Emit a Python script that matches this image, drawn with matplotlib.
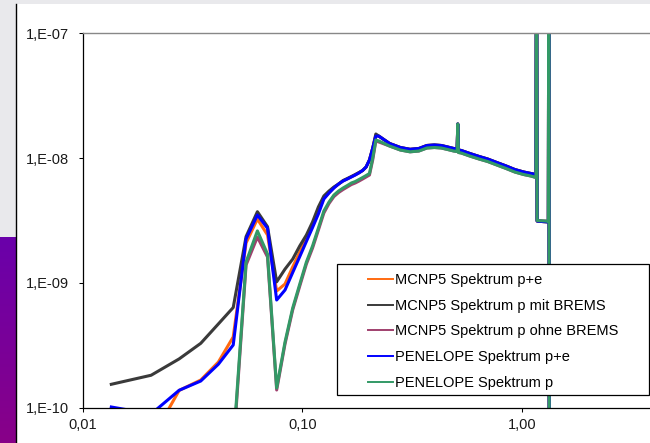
import numpy as np
import matplotlib
matplotlib.use("Agg")
import matplotlib.pyplot as plt
from matplotlib.patches import Rectangle
from matplotlib.lines import Line2D
from matplotlib.ticker import NullLocator
from matplotlib.colors import LinearSegmentedColormap

plt.rcParams['font.family'] = ['Liberation Sans', 'DejaVu Sans']

# ---------------- data (energy in MeV, spectrum values) ----------------
energy = [0.0135, 0.0205, 0.0275, 0.0345, 0.0415, 0.0485, 0.0555, 0.0625, 0.0695, 0.0765,
          0.0835, 0.0905, 0.0975, 0.1045, 0.1115, 0.1185, 0.1255, 0.1325, 0.1395, 0.1465,
          0.1535, 0.1605, 0.1675, 0.1745, 0.1815, 0.1885, 0.1955, 0.2025, 0.2095, 0.2165,
          0.2235,
          0.25, 0.28, 0.31, 0.34, 0.37, 0.40, 0.43, 0.46, 0.49,
          0.508, 0.5115, 0.515, 0.53, 0.58, 0.64, 0.70, 0.77, 0.85, 0.93,
          1.02, 1.10, 1.1615, 1.1685, 1.1755, 1.25, 1.3225, 1.3295, 1.3365]

nan = np.nan

black_low = [1.54e-10, 1.82e-10, 2.46e-10, 3.28e-10, 4.69e-10, 6.35e-10, 2.35e-9, 3.72e-9, 2.82e-9, 1.02e-9,
             1.29e-9, 1.55e-9, 1.98e-9, 2.42e-9, 3.08e-9, 4.06e-9, 4.97e-9, 5.45e-9, 5.87e-9, 6.20e-9,
             6.61e-9, 6.86e-9, 7.12e-9, 7.39e-9, 7.67e-9, 7.96e-9, 8.49e-9, 9.66e-9, 1.20e-8, 1.56e-8,
             1.50e-8]
orange_low = [5.5e-11, 5.5e-11, 1.375e-10, 1.667e-10, 2.32e-10, 3.69e-10, 2.09e-9, 3.25e-9, 2.42e-9, 8.61e-10,
              9.80e-10, 1.341e-9, 1.768e-9, 2.27e-9, 2.91e-9, 3.77e-9, 4.79e-9, 5.30e-9, 5.80e-9, 6.20e-9,
              6.58e-9, 6.83e-9, 7.09e-9, 7.35e-9, 7.64e-9, 7.96e-9, 8.49e-9, 9.66e-9, 1.20e-8, 1.52e-8,
              1.50e-8]
blue_low = [1.013e-10, 8.90e-11, 1.379e-10, 1.636e-10, 2.23e-10, 3.18e-10, 2.25e-9, 3.50e-9, 2.74e-9, 7.29e-10,
            8.77e-10, 1.211e-9, 1.627e-9, 2.15e-9, 2.78e-9, 3.57e-9, 4.70e-9, 5.25e-9, 5.76e-9, 6.20e-9,
            6.55e-9, 6.80e-9, 7.06e-9, 7.32e-9, 7.61e-9, 7.96e-9, 8.49e-9, 9.66e-9, 1.20e-8, 1.50e-8,
            1.50e-8]
green_low = [nan, nan, nan, nan, nan, 4.9e-11, 1.471e-9, 2.61e-9, 1.704e-9, 1.438e-10,
             3.36e-10, 6.29e-10, 9.80e-10, 1.471e-9, 1.98e-9, 2.75e-9, 3.77e-9, 4.45e-9, 5.06e-9, 5.45e-9,
             5.76e-9, 6.03e-9, 6.32e-9, 6.49e-9, 6.74e-9, 6.99e-9, 7.25e-9, 7.53e-9, 1.002e-8, 1.396e-8,
             1.371e-8]
purple_low = [nan, nan, nan, nan, nan, 4.5e-11, 1.391e-9, 2.33e-9, 1.612e-9, 1.386e-10,
              3.24e-10, 6.07e-10, 9.45e-10, 1.417e-9, 1.904e-9, 2.65e-9, 3.63e-9, 4.33e-9, 4.92e-9, 5.30e-9,
              5.60e-9, 5.87e-9, 6.14e-9, 6.32e-9, 6.55e-9, 6.80e-9, 7.06e-9, 7.32e-9, 9.66e-9, 1.371e-8,
              1.346e-8]

# plateau 0.25 .. 1.3365 MeV (incl. 0.511 annihilation peak and Co-60 lines)
plateau_pe = [1.31e-8, 1.216e-8, 1.176e-8, 1.194e-8, 1.262e-8, 1.274e-8, 1.262e-8, 1.227e-8, 1.194e-8,
              1.183e-8, 1.876e-8, 1.161e-8, 1.151e-8, 1.089e-8, 1.030e-8, 9.83e-9, 9.22e-9, 8.64e-9, 8.10e-9,
              7.74e-9, 7.53e-9, 7.39e-9, 2e-6, 3.13e-9, 3.10e-9, 3.08e-9, 2e-6, 1e-12]
plateau_p = [1.250e-8, 1.161e-8, 1.123e-8, 1.140e-8, 1.205e-8, 1.216e-8, 1.205e-8, 1.172e-8, 1.140e-8,
             1.129e-8, 1.876e-8, 1.109e-8, 1.099e-8, 1.039e-8, 9.83e-9, 9.39e-9, 8.81e-9, 8.25e-9, 7.74e-9,
             7.39e-9, 7.19e-9, 6.99e-9, 2e-6, 3.16e-9, 3.14e-9, 3.12e-9, 2e-6, 1e-12]

series_names = ["MCNP5 Spektrum p+e", "MCNP5 Spektrum p mit BREMS", "MCNP5 Spektrum p ohne BREMS",
                "PENELOPE Spektrum p+e", "PENELOPE Spektrum p"]
series_values = [orange_low + plateau_pe, black_low + plateau_pe, purple_low + plateau_p,
                 blue_low + plateau_pe, green_low + plateau_p]
series_colors = ["#ff6a10", "#3a3a3a", "#a0406e", "#0000ff", "#339966"]

y_ticks = [1e-10, 1e-9, 1e-8, 1e-7]
y_tick_labels = ["1,E-10", "1,E-09", "1,E-08", "1,E-07"]
x_ticks = [0.01, 0.1, 1.0]
x_tick_labels = ["0,01", "0,10", "1,00"]

# ---------------- figure ----------------
W, H = 650, 443
fig = plt.figure(figsize=(W / 100, H / 100), dpi=100, facecolor="white")

def fx(px):
    return px / W

def fy(py):
    return 1 - py / H

# background decoration (screenshot surroundings)
fig.patches.append(Rectangle((0, fy(4)), 1, 4 / H, transform=fig.transFigure,
                             facecolor="#e9e9ec", edgecolor="none", zorder=-10))
fig.patches.append(Rectangle((0, 0), fx(16), fy(4), transform=fig.transFigure,
                             facecolor="#e9e9ec", edgecolor="none", zorder=-10))
gax = fig.add_axes([0, 0, fx(15.5), fy(237)])
cmap = LinearSegmentedColormap.from_list("pg", ["#6a00aa", "#880088"])
gax.imshow(np.linspace(0, 1, 100).reshape(-1, 1), aspect="auto", cmap=cmap)
gax.set_axis_off()
fig.lines.append(Line2D([fx(16), fx(16)], [0, fy(4)], transform=fig.transFigure,
                        color="black", linewidth=1.0, zorder=3))

# main axes
x0, x1 = 82.7, 650
y0, y1 = 33.3, 407.7
ax = fig.add_axes([fx(x0), fy(y1), fx(x1 - x0), (y1 - y0) / H])
ax.set_xscale("log")
ax.set_yscale("log")
xmax = 10 ** ((x1 - x0) / 219.5 - 2)
ax.set_xlim(0.01, xmax)
ax.set_ylim(1e-10, 1e-7)

handles = []
for name, vals, col in zip(series_names, series_values, series_colors):
    ln, = ax.plot(energy, vals, color=col, linewidth=2.2, label=name, solid_joinstyle="round")
    handles.append(ln)

ax.set_yticks(y_ticks)
ax.set_yticklabels(y_tick_labels)
ax.set_xticks(x_ticks)
ax.set_xticklabels(x_tick_labels)
ax.xaxis.set_minor_locator(NullLocator())
ax.yaxis.set_minor_locator(NullLocator())
ax.tick_params(axis="both", direction="out", length=3.2, width=0.75, colors="black",
               labelsize=10.5, labelcolor="#1a1a1a")
ax.tick_params(axis="y", pad=6.5)
ax.tick_params(axis="x", pad=4.0)

ax.spines["right"].set_visible(False)
ax.spines["top"].set_color("#888888")
ax.spines["top"].set_linewidth(1.0)
ax.spines["left"].set_linewidth(0.9)
ax.spines["bottom"].set_linewidth(0.9)

# legend box
bx0, bx1, by0, by1 = 337.3, 649.0, 264.3, 394.7
fig.patches.append(Rectangle((fx(bx0), fy(by1)), fx(bx1 - bx0), (by1 - by0) / H,
                             transform=fig.transFigure, facecolor="white", edgecolor="black",
                             linewidth=0.9, zorder=5))
leg = fig.legend(handles=handles, labels=series_names, loc="upper left",
                 bbox_to_anchor=(fx(368.3), fy(273.0)), frameon=False, fontsize=10.5,
                 handlelength=1.72, handletextpad=0.12, labelspacing=0.8,
                 borderpad=0, borderaxespad=0)
leg.set_zorder(6)
for l in leg.get_lines():
    l.set_linewidth(1.4)

fig.savefig("out.png", dpi=100, facecolor=fig.get_facecolor())
